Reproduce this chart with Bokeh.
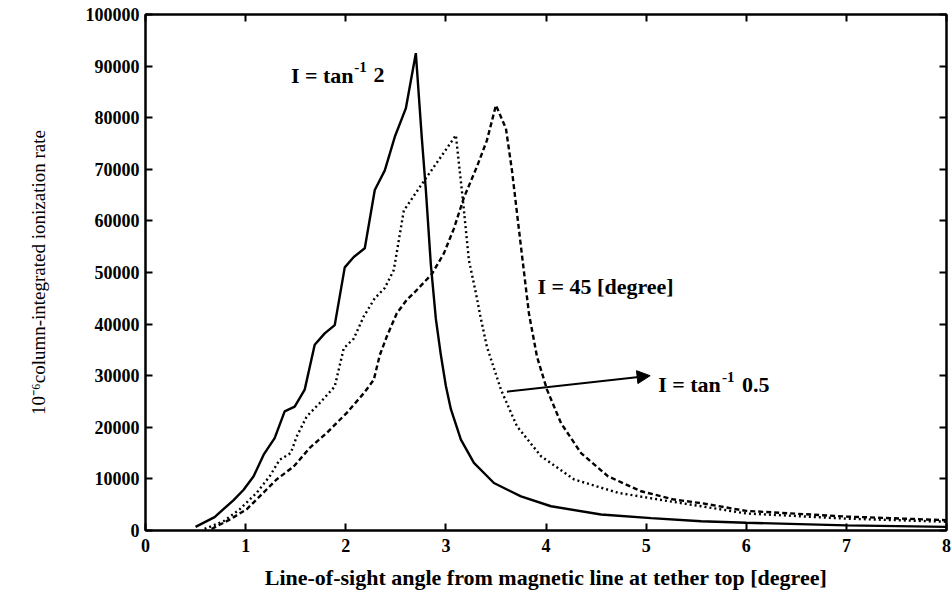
from bokeh.plotting import figure
from bokeh.models import Range1d, LinearAxis, Label, Arrow, NormalHead, FixedTicker, BasicTickFormatter
from bokeh.embed import file_html
from bokeh.resources import INLINE

# ---- data ----
solid_x = [0.50, 0.69, 0.88, 0.98, 1.08, 1.18, 1.29, 1.39, 1.49, 1.59, 1.69, 1.79, 1.89, 1.99,
           2.08, 2.19, 2.29, 2.39, 2.49, 2.60, 2.70, 2.76, 2.80, 2.85, 2.90, 2.95, 3.00, 3.05,
           3.15, 3.28, 3.48, 3.75, 4.05, 4.55, 5.05, 5.55, 6.00, 7.00, 8.00]
solid_y = [700, 2600, 5900, 7900, 10500, 14700, 17900, 23100, 24000, 27300, 36000, 38200, 39800, 51000,
           53000, 54700, 66000, 69800, 76300, 81800, 92500, 76000, 66000, 51500, 41000, 34000, 28000, 23500,
           17600, 13100, 9200, 6600, 4700, 3100, 2400, 1800, 1500, 1000, 700]

dotted_x = [0.59, 0.78, 0.94, 1.11, 1.24, 1.34, 1.45, 1.51, 1.61, 1.74, 1.89, 1.98, 2.08, 2.18,
            2.29, 2.39, 2.48, 2.58, 2.78, 2.95, 3.10, 3.17, 3.23, 3.30, 3.35, 3.41, 3.55, 3.71,
            3.95, 4.28, 4.72, 5.22, 5.55, 6.00, 7.00, 8.00]
dotted_y = [300, 1800, 4100, 7300, 10500, 13700, 15000, 18200, 22100, 24700, 27900, 35300, 37200, 41500,
            45000, 47000, 50500, 62000, 67700, 72400, 76600, 64000, 52400, 46000, 41000, 35600, 27300, 20200,
            14400, 9900, 7300, 5700, 4700, 3300, 2300, 1700]

dashed_x = [0.66, 0.84, 1.01, 1.14, 1.31, 1.48, 1.64, 1.81, 2.01, 2.18, 2.28, 2.34, 2.41, 2.51,
            2.61, 2.68, 2.86, 2.98, 3.08, 3.18, 3.31, 3.41, 3.50, 3.60, 3.66, 3.75, 3.83, 3.91,
            4.01, 4.15, 4.35, 4.62, 4.95, 5.28, 5.55, 6.00, 7.00, 8.00]
dashed_y = [300, 2100, 4100, 6600, 9900, 12400, 16000, 18900, 22800, 26600, 29200, 34000, 37600, 42100,
            44700, 46000, 49700, 53700, 58500, 64500, 70500, 75600, 82400, 77900, 69800, 55000, 42000, 33700,
            27300, 20800, 15000, 10500, 7600, 6000, 5300, 3800, 2700, 2000]

x_ticks = [0, 1, 2, 3, 4, 5, 6, 7, 8]
y_ticks = [0, 10000, 20000, 30000, 40000, 50000, 60000, 70000, 80000, 90000, 100000]

x_label = "Line-of-sight angle from magnetic line at tether top [degree]"
y_label = "10\u207b\u2076column-integrated ionization rate"

FONT = "Liberation Serif"

p = figure(width=951, height=600, output_backend="svg", toolbar_location=None,
           x_range=Range1d(0, 8), y_range=Range1d(0, 100000),
           min_border_left=145, min_border_right=5, min_border_top=14, min_border_bottom=70)
p.background_fill_color = "white"
p.border_fill_color = "white"
p.outline_line_color = "black"
p.outline_line_width = 2
p.xgrid.visible = False
p.ygrid.visible = False

p.line(solid_x, solid_y, line_color="black", line_width=2.4)
p.line(dotted_x, dotted_y, line_color="black", line_width=2.4, line_dash="2 3")
p.line(dashed_x, dashed_y, line_color="black", line_width=2.4, line_dash="5 3")

def style_axis(ax, labels=True):
    ax.axis_line_color = "black"
    ax.axis_line_width = 2
    ax.major_tick_line_color = "black"
    ax.major_tick_line_width = 2
    ax.major_tick_in = 7
    ax.major_tick_out = 0
    ax.minor_tick_line_color = None
    if labels:
        ax.major_label_text_font = FONT
        ax.major_label_text_font_style = "bold"
        ax.major_label_text_font_size = "18px"
        ax.major_label_text_color = "black"
    else:
        ax.major_label_text_font_size = "1px"
        ax.major_label_text_color = None
        ax.major_label_standoff = 0

xa = p.xaxis[0]
xa.ticker = FixedTicker(ticks=x_ticks)
style_axis(xa)
xa.major_label_standoff = 8
xa.axis_label = x_label
xa.axis_label_text_font = FONT
xa.axis_label_text_font_style = "bold"
xa.axis_label_text_font_size = "22px"
xa.axis_label_text_color = "black"
xa.axis_label_standoff = 10

ya = p.yaxis[0]
ya.ticker = FixedTicker(ticks=y_ticks)
ya.formatter = BasicTickFormatter(use_scientific=False)
style_axis(ya)
ya.major_label_standoff = 6
ya.axis_label = y_label
ya.axis_label_text_font = FONT
ya.axis_label_text_font_style = "normal"
ya.axis_label_text_font_size = "19px"
ya.axis_label_text_color = "black"
ya.axis_label_standoff = 34

top = LinearAxis(ticker=FixedTicker(ticks=x_ticks))
style_axis(top, labels=False)
p.add_layout(top, "above")
right = LinearAxis(ticker=FixedTicker(ticks=y_ticks))
style_axis(right, labels=False)
p.add_layout(right, "right")

def lab(x, y, t, size="22px"):
    p.add_layout(Label(x=x, y=y, text=t, text_font=FONT, text_font_style="bold",
                       text_font_size=size, text_color="black",
                       text_align="left", text_baseline="alphabetic"))

# I = tan^-1 2
lab(1.452, 88200, "I = tan")
lab(2.085, 89800, "-1", "15px")
lab(2.276, 88200, "2")
# I = 45 [degree]
lab(3.915, 47300, "I = 45 [degree]")
# I = tan^-1 0.5
lab(5.12, 28200, "I = tan")
lab(5.757, 29800, "-1", "15px")
lab(5.958, 28200, "0.5")

p.add_layout(Arrow(x_start=3.61, y_start=26900, x_end=5.04, y_end=30000,
                   line_color="black", line_width=2,
                   end=NormalHead(size=13, fill_color="black", line_color="black")))

open("out.html", "w").write(file_html(p, INLINE))
